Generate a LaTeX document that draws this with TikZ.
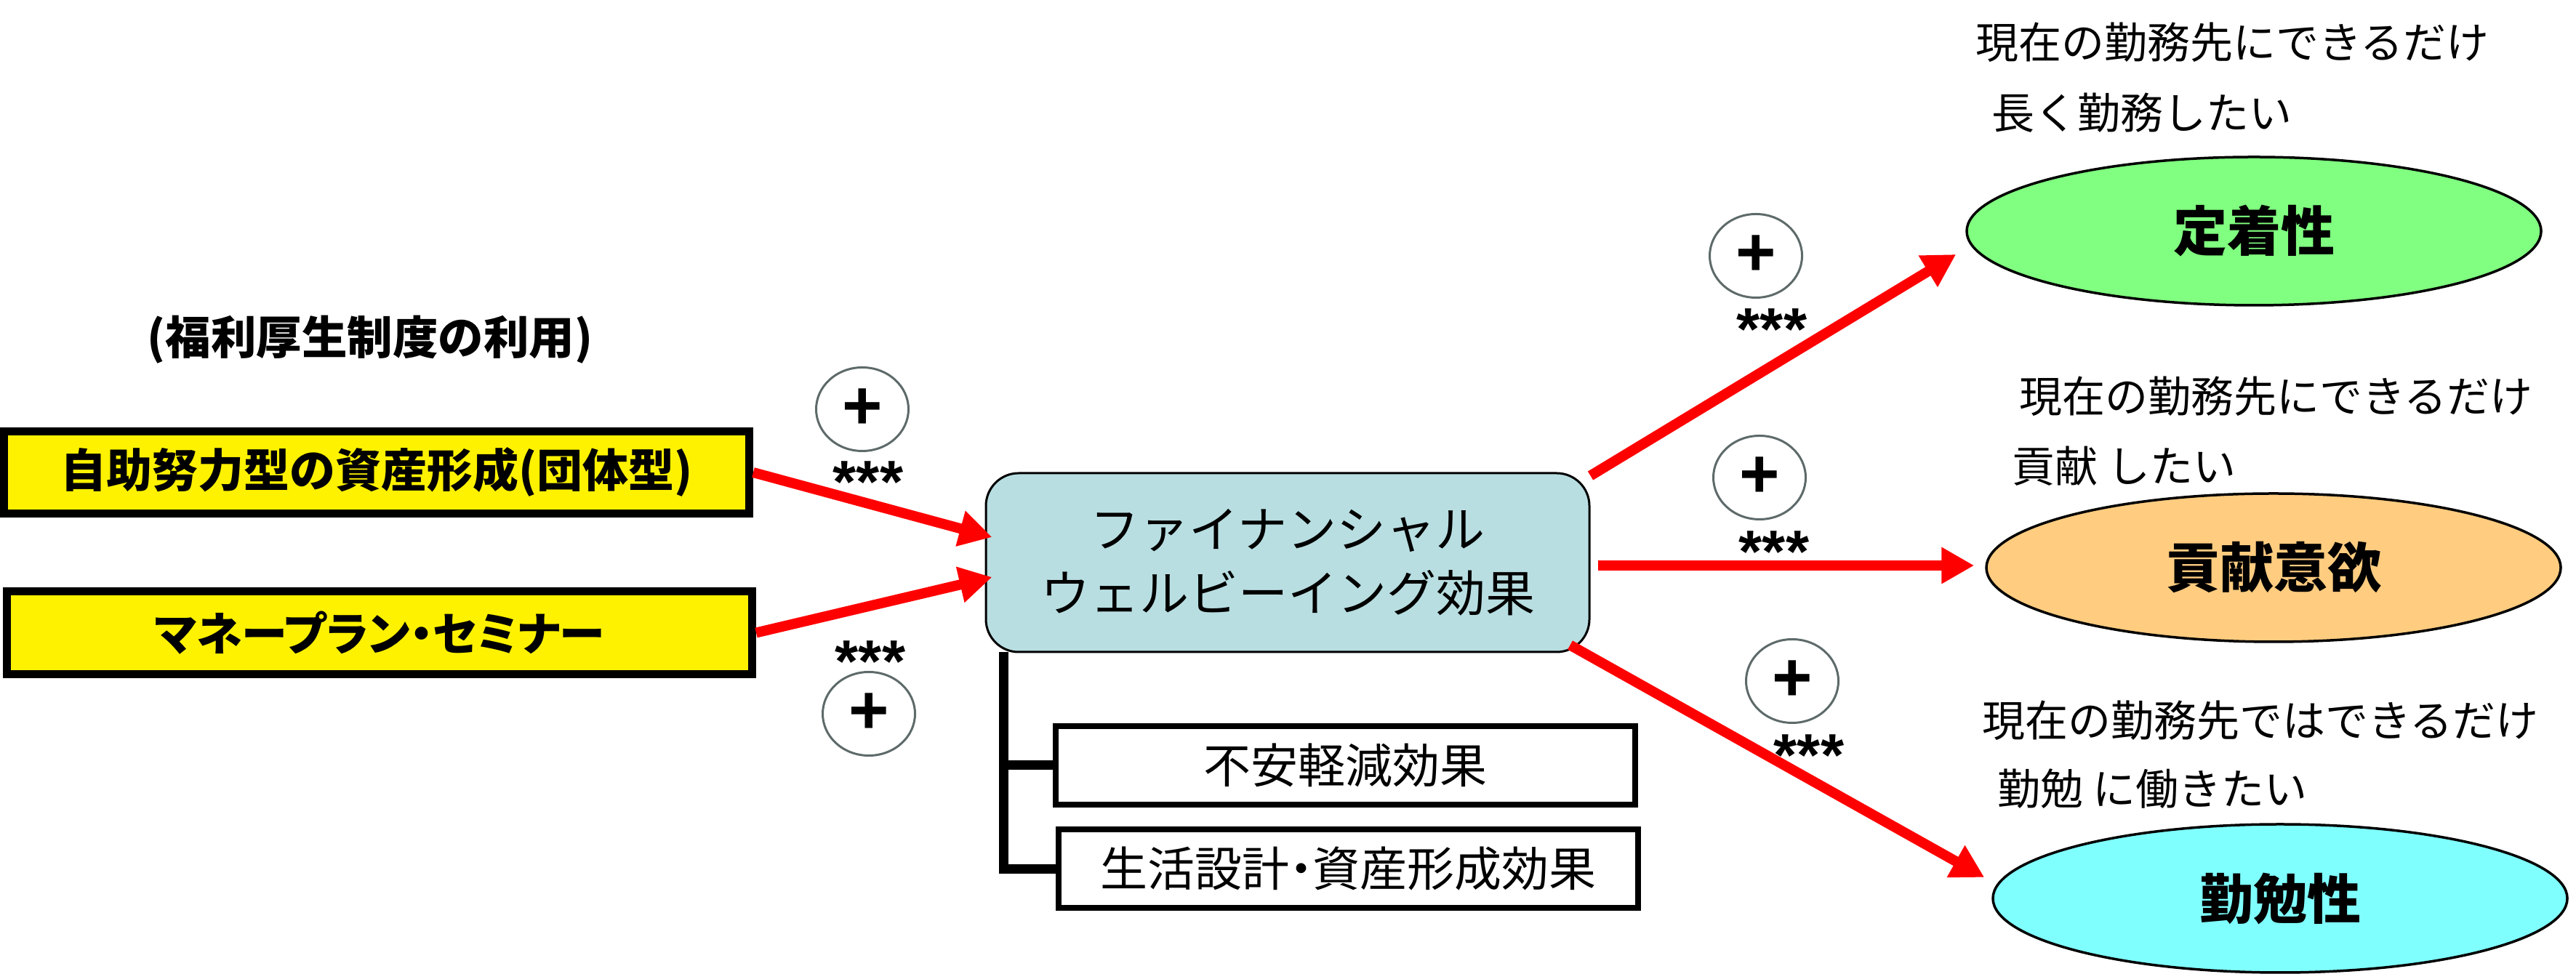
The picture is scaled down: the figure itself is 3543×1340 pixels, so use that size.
\documentclass[tikz,border=0pt]{standalone}
\usepackage{fontspec}
\setmainfont{Noto Sans CJK JP}
\newfontfamily\jpp[RawFeature=+palt]{Noto Sans CJK JP}
\newfontfamily\lat{Liberation Sans}
\usetikzlibrary{shapes.geometric,arrows.meta,calc}
\definecolor{mainblue}{HTML}{B8DEE1}
\definecolor{circgray}{HTML}{5E6A6A}
\definecolor{ovgreen}{HTML}{80FF80}
\definecolor{ovorange}{HTML}{FFCC80}
\definecolor{ovcyan}{HTML}{80FFFF}
\tikzset{
 ybox/.style={draw=black, line width=2.2pt, fill=yellow, minimum width=205pt, minimum height=22.7pt, inner sep=0pt, font=\fontsize{12.6pt}{14pt}\selectfont\bfseries},
 mainbox/.style={draw=black, line width=0.6pt, fill=mainblue, rounded corners=9pt, minimum width=166pt, minimum height=49.2pt, inner sep=0pt, align=center, font=\fontsize{13.6pt}{17.6pt}\selectfont},
 subbox/.style={draw=black, line width=1.6pt, fill=white, minimum width=159.4pt, minimum height=21.6pt, inner sep=0pt, font=\fontsize{13pt}{15pt}\selectfont},
 oval/.style={ellipse, draw=black, line width=0.7pt, minimum width=158pt, minimum height=40.8pt, inner sep=0pt, font=\fontsize{14.8pt}{16pt}\selectfont\bfseries},
 pluscirc/.style={ellipse, draw=circgray, line width=0.6pt, fill=white, minimum width=25.4pt, minimum height=23pt, inner sep=0pt, font=\lat\fontsize{19pt}{19pt}\selectfont\bfseries},
 stars/.style={inner sep=0pt, font=\lat\fontsize{16.5pt}{16.5pt}\selectfont\bfseries},
 note/.style={anchor=west, inner sep=0pt, font=\fontsize{11.8pt}{13pt}\selectfont},
 titletext/.style={inner sep=0pt, font=\fontsize{12.5pt}{14pt}\selectfont\bfseries},
 redarrow/.style={draw=red, line width=2.8pt, -{Triangle[length=9pt,width=9.5pt]}},
 bracket/.style={draw=black, line width=2.6pt},
}
\begin{document}
\begin{tikzpicture}[x=0.2pt,y=-0.2pt]
\useasboundingbox (0,0) rectangle (3543,1340);

% left
\node[titletext] (title) at (509,467) {(福利厚生制度の利用)};
\node[ybox] (b1) at (518,650) {自助努力型の資産形成(団体型)};
\node[ybox] (b2) at (522,870.5) {\jpp マネープラン・セミナー};

% centre
\node[mainbox] (main) at (1771,774) {ファイナンシャル\\ウェルビーイング効果};
\node[subbox] (sa) at (1850.5,1053) {不安軽減効果};
\node[subbox] (sb) at (1854.5,1195.5) {生活設計{\jpp ・}資産形成効果};
\coordinate (brk) at (1380,897);
\draw[bracket] (brk) |- (sa.west);
\draw[bracket] (brk) |- (sb.west);

% right
\node[oval, fill=ovgreen] (e1) at (3100,318) {定着性};
\node[oval, fill=ovorange] (e2) at (3127,781) {貢献意欲};
\node[oval, fill=ovcyan] (e3) at (3136,1236) {勤勉性};

\node[note] (n1a) at (2716,58) {現在の勤務先にできるだけ};
\node[note] (n1b) at (2738,155) {長く勤務したい};
\node[note] (n2a) at (2776,545) {現在の勤務先にできるだけ};
\node[note] (n2b) at (2766,641) {貢献\ したい};
\node[note] (n3a) at (2725,991) {現在の勤務先ではできるだけ};
\node[note] (n3b) at (2746,1085) {勤勉\ に働きたい};

% arrows
\draw[redarrow] (b1.east) -- ($(main.west)+(10,-35)$);
\draw[redarrow] (b2.east) -- ($(main.west)+(10,20)$);
\draw[redarrow] ($(main.north east)+(0,5)$) -- ($(e1.west)+(-13,32)$);
\draw[redarrow] ($(main.east)+(10,4)$) -- ($(e2.west)+(-15,-3)$);
\draw[redarrow] ($(main.south east)+(-28,-11)$) -- ($(e3.west)+(-10,-29)$);

% significance marks
\node[pluscirc] (c1) at (1186,563) {+};
\node[pluscirc] (c2) at (1195,982) {+};
\node[pluscirc] (c3) at (2415,352) {+};
\node[pluscirc] (c4) at (2420,657) {+};
\node[pluscirc] (c5) at (2465,937) {+};
\node[stars] (s1) at (1194,663) {***};
\node[stars] (s2) at (1197,910) {***};
\node[stars] (s3) at (2437,453) {***};
\node[stars] (s4) at (2440,759) {***};
\node[stars] (s5) at (2488,1039) {***};
\end{tikzpicture}
\end{document}
